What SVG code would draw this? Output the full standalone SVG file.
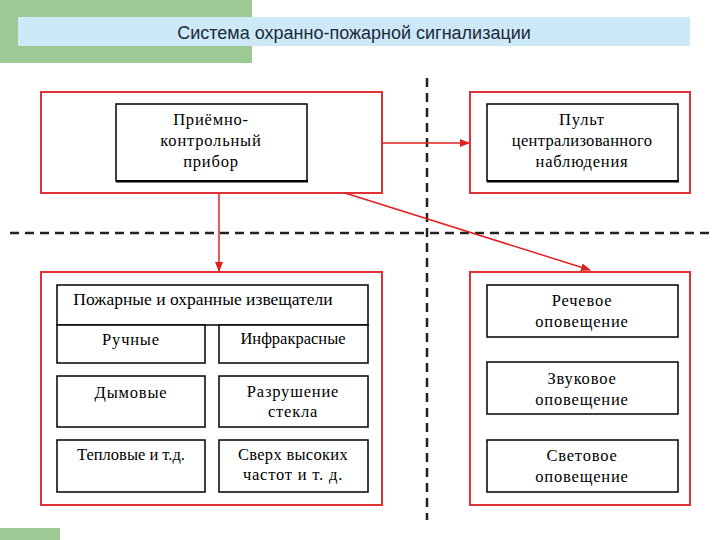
<svg xmlns="http://www.w3.org/2000/svg" width="720" height="540" viewBox="0 0 720 540">
<style>
.red{fill:#fff;stroke:#e03038;stroke-width:2}
.box{fill:#fff;stroke:#000;stroke-width:1.5}
.sh{fill:#000}
.t{font-size:16.5px;letter-spacing:0.8px;text-anchor:middle;fill:#000}
.ar{stroke:#e02020;stroke-width:1.5;fill:none;marker-end:url(#ah)}
.dash{stroke:#222;stroke-width:2.5;stroke-dasharray:9,6;fill:none}
</style>
<defs><marker id="ah" markerWidth="10" markerHeight="8" refX="9" refY="4" orient="auto" markerUnits="userSpaceOnUse"><path d="M0,0 L10,4 L0,8 z" fill="#e02020"/></marker></defs>
<rect x="0" y="0" width="252" height="63" fill="#9dc995"/>
<rect x="0" y="528" width="60" height="12" fill="#9dc995"/>
<rect x="18" y="17" width="672" height="29" fill="#cde8f6"/>
<text x="354" y="39" font-family="Liberation Sans, sans-serif" font-size="18" text-anchor="middle" fill="#1a2a3a">Система охранно-пожарной сигнализации</text>
<g id="separators"><path class="dash" d="M427,78 V520"/><path class="dash" d="M10,233 H710"/></g>
<g font-family="Liberation Serif, serif">
<g id="panel-tl"><rect class="red" x="41" y="92" width="341" height="101"/>
<rect class="box" x="116" y="104" width="191" height="77"/><rect class="sh" x="116" y="180" width="192" height="2.5"/>
<text class="t" x="211" y="125">Приёмно-</text><text class="t" x="211" y="146">контрольный</text><text class="t" x="211" y="167">прибор</text></g>
<g id="panel-tr"><rect class="red" x="470" y="92" width="220" height="101"/>
<rect class="box" x="487" y="104" width="191" height="77"/><rect class="sh" x="487" y="180" width="192" height="2.5"/>
<text class="t" x="582" y="125">Пульт</text><text class="t" x="582" y="146" style="letter-spacing:0.3px">централизованного</text><text class="t" x="582" y="167">наблюдения</text></g>
<g id="panel-bl"><rect class="red" x="41" y="272" width="341" height="233"/>
<rect class="box" x="57" y="285" width="311" height="40"/>
<text class="t" x="203" y="305" style="font-size:17.5px;letter-spacing:0">Пожарные и охранные извещатели</text>
<rect class="box" x="57" y="325" width="148" height="38"/><text class="t" x="131" y="345">Ручные</text>
<rect class="box" x="219" y="325" width="149" height="38"/><text class="t" x="293" y="344" style="letter-spacing:0">Инфракрасные</text>
<rect class="box" x="57" y="376" width="148" height="51"/><text class="t" x="131" y="398">Дымовые</text>
<rect class="box" x="219" y="376" width="149" height="51"/><text class="t" x="293" y="397">Разрушение</text><text class="t" x="293" y="417">стекла</text>
<rect class="box" x="57" y="440" width="148" height="52"/><text class="t" x="131" y="460" style="letter-spacing:0">Тепловые и т.д.</text>
<rect class="box" x="219" y="440" width="149" height="52"/><text class="t" x="293" y="460" style="letter-spacing:0.3px">Сверх высоких</text><text class="t" x="293" y="480">частот и т. д.</text></g>
<g id="panel-br"><rect class="red" x="470" y="272" width="220" height="233"/>
<rect class="box" x="487" y="285" width="191" height="52"/><text class="t" x="582" y="306">Речевое</text><text class="t" x="582" y="327">оповещение</text>
<rect class="box" x="487" y="362" width="191" height="52"/><text class="t" x="582" y="384">Звуковое</text><text class="t" x="582" y="405">оповещение</text>
<rect class="box" x="487" y="440" width="191" height="52"/><text class="t" x="582" y="461">Световое</text><text class="t" x="582" y="482">оповещение</text></g>
</g>
<g id="connectors">
<path class="ar" d="M382,143 H469"/>
<path class="ar" d="M219,193 V271"/>
<path class="ar" d="M345,193 L590,270"/>
</g>
</svg>
